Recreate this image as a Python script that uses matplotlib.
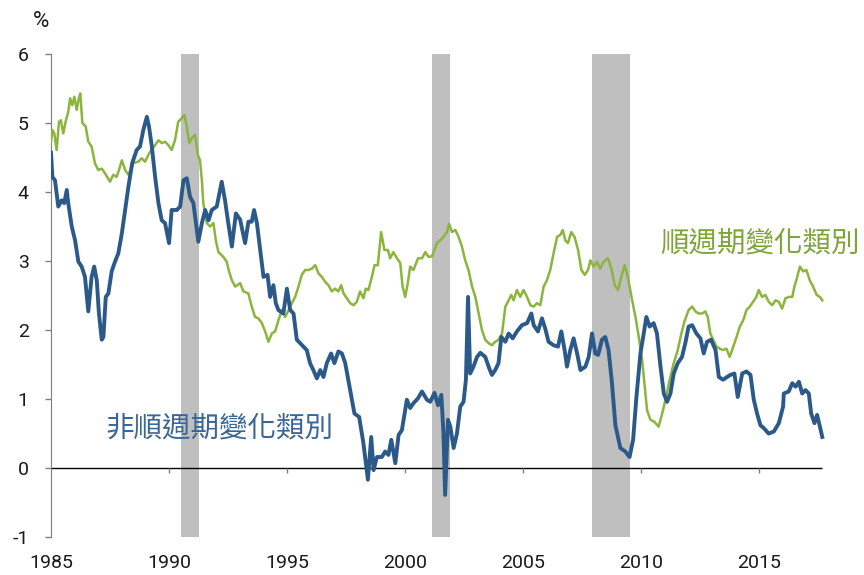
import matplotlib.pyplot as plt

plt.rcParams['font.family'] = ['Roboto', 'DejaVu Sans']
plt.rcParams['axes.unicode_minus'] = False

# non-cyclical (blue)
blue_year = [1985.00, 1985.06, 1985.17, 1985.31, 1985.45, 1985.56, 1985.67, 1985.73, 1985.88, 1986.02,
             1986.16, 1986.30, 1986.44, 1986.58, 1986.72, 1986.83, 1986.94, 1987.03, 1987.15, 1987.22,
             1987.32, 1987.43, 1987.57, 1987.71, 1987.85, 1988.00, 1988.14, 1988.28, 1988.44, 1988.63,
             1988.77, 1988.91, 1989.06, 1989.15, 1989.27, 1989.41, 1989.55, 1989.69, 1989.83, 1990.00,
             1990.11, 1990.33, 1990.47, 1990.61, 1990.75, 1990.89, 1991.03, 1991.24, 1991.39, 1991.53,
             1991.67, 1991.81, 1992.02, 1992.23, 1992.37, 1992.49, 1992.66, 1992.83, 1993.01, 1993.22,
             1993.36, 1993.50, 1993.60, 1993.72, 1993.86, 1994.00, 1994.17, 1994.28, 1994.42, 1994.52,
             1994.63, 1994.84, 1994.99, 1995.13, 1995.27, 1995.41, 1995.55, 1995.69, 1995.83, 1995.97,
             1996.11, 1996.26, 1996.40, 1996.54, 1996.68, 1996.86, 1997.00, 1997.17, 1997.32, 1997.46,
             1997.67, 1997.85, 1998.05, 1998.23, 1998.42, 1998.56, 1998.66, 1998.80, 1999.01, 1999.15,
             1999.29, 1999.41, 1999.58, 1999.72, 1999.86, 2000.07, 2000.21, 2000.35, 2000.54, 2000.71,
             2000.92, 2001.06, 2001.24, 2001.39, 2001.53, 2001.62, 2001.69, 2001.81, 2001.91, 2002.05,
             2002.19, 2002.33, 2002.47, 2002.57, 2002.66, 2002.75, 2002.89, 2003.04, 2003.18, 2003.39,
             2003.53, 2003.67, 2003.81, 2003.95, 2004.07, 2004.24, 2004.38, 2004.55, 2004.73, 2004.94,
             2005.16, 2005.34, 2005.44, 2005.62, 2005.79, 2005.93, 2006.07, 2006.28, 2006.47, 2006.61,
             2006.75, 2006.85, 2006.99, 2007.13, 2007.28, 2007.42, 2007.63, 2007.77, 2007.91, 2008.05,
             2008.17, 2008.33, 2008.47, 2008.61, 2008.75, 2008.90, 2009.11, 2009.32, 2009.50, 2009.65,
             2009.79, 2009.96, 2010.10, 2010.21, 2010.35, 2010.52, 2010.66, 2010.81, 2010.95, 2011.09,
             2011.23, 2011.37, 2011.54, 2011.72, 2011.86, 2012.00, 2012.15, 2012.33, 2012.50, 2012.64,
             2012.78, 2012.95, 2013.14, 2013.28, 2013.46, 2013.63, 2013.77, 2013.94, 2014.08, 2014.27,
             2014.45, 2014.62, 2014.76, 2014.90, 2015.04, 2015.18, 2015.39, 2015.61, 2015.82, 2016.00,
             2016.03, 2016.24, 2016.39, 2016.53, 2016.67, 2016.81, 2016.95, 2017.09, 2017.19, 2017.33,
             2017.44, 2017.56, 2017.66]
blue_val = [4.57, 4.22, 4.17, 3.79, 3.88, 3.84, 4.03, 3.84, 3.50, 3.30,
            2.99, 2.92, 2.77, 2.27, 2.77, 2.92, 2.72, 2.24, 1.86, 1.90,
            2.48, 2.53, 2.85, 2.99, 3.11, 3.40, 3.74, 4.08, 4.42, 4.61,
            4.66, 4.90, 5.09, 4.95, 4.66, 4.22, 3.84, 3.59, 3.55, 3.26,
            3.74, 3.74, 3.79, 4.17, 4.20, 3.93, 3.84, 3.28, 3.55, 3.74,
            3.59, 3.74, 3.79, 4.15, 3.88, 3.59, 3.21, 3.69, 3.60, 3.26,
            3.57, 3.57, 3.74, 3.55, 3.16, 2.77, 2.80, 2.48, 2.65, 2.39,
            2.29, 2.24, 2.60, 2.29, 2.24, 1.86, 1.81, 1.76, 1.71, 1.52,
            1.42, 1.30, 1.42, 1.32, 1.52, 1.66, 1.52, 1.69, 1.66, 1.52,
            1.13, 0.79, 0.74, 0.36, -0.17, 0.45, -0.03, 0.16, 0.16, 0.24,
            0.19, 0.41, 0.07, 0.48, 0.55, 0.99, 0.87, 0.94, 1.01, 1.11,
            0.99, 0.96, 1.09, 0.91, 1.06, 0.50, -0.39, 0.70, 0.60, 0.29,
            0.50, 0.89, 0.96, 1.28, 2.48, 1.37, 1.47, 1.61, 1.67, 1.61,
            1.47, 1.35, 1.42, 1.52, 1.90, 1.83, 1.95, 1.88, 1.98, 2.07,
            2.10, 2.24, 2.07, 1.98, 2.17, 2.02, 1.83, 1.78, 1.76, 1.98,
            1.71, 1.47, 1.71, 1.88, 1.66, 1.42, 1.47, 1.61, 1.95, 1.66,
            1.64, 1.86, 1.90, 1.71, 1.25, 0.62, 0.29, 0.24, 0.16, 0.41,
            1.03, 1.66, 1.95, 2.19, 2.05, 2.10, 1.95, 1.47, 1.08, 0.96,
            1.08, 1.37, 1.52, 1.61, 1.81, 2.05, 2.07, 1.95, 1.88, 1.66,
            1.83, 1.86, 1.71, 1.32, 1.28, 1.32, 1.35, 1.37, 1.03, 1.37,
            1.40, 1.35, 0.99, 0.79, 0.62, 0.58, 0.50, 0.53, 0.65, 0.89,
            1.08, 1.11, 1.23, 1.18, 1.25, 1.08, 1.13, 1.08, 0.79, 0.65,
            0.77, 0.60, 0.45]

# cyclical (green)
green_year = [1985.00, 1985.06, 1985.14, 1985.24, 1985.34, 1985.42, 1985.52, 1985.62, 1985.73, 1985.81,
              1985.90, 1985.99, 1986.09, 1986.16, 1986.24, 1986.33, 1986.47, 1986.58, 1986.72, 1986.86,
              1987.00, 1987.15, 1987.29, 1987.50, 1987.64, 1987.78, 1987.88, 1988.00, 1988.14, 1988.28,
              1988.49, 1988.70, 1988.84, 1988.98, 1989.19, 1989.41, 1989.55, 1989.69, 1989.83, 1989.97,
              1990.11, 1990.25, 1990.39, 1990.54, 1990.65, 1990.75, 1990.86, 1990.96, 1991.10, 1991.22,
              1991.31, 1991.39, 1991.45, 1991.60, 1991.74, 1991.88, 1991.98, 1992.09, 1992.30, 1992.44,
              1992.54, 1992.66, 1992.80, 1993.01, 1993.15, 1993.36, 1993.50, 1993.64, 1993.78, 1993.93,
              1994.07, 1994.21, 1994.35, 1994.49, 1994.63, 1994.78, 1994.92, 1995.06, 1995.20, 1995.34,
              1995.48, 1995.62, 1995.76, 1995.90, 1996.05, 1996.19, 1996.33, 1996.47, 1996.61, 1996.75,
              1996.89, 1997.03, 1997.17, 1997.29, 1997.39, 1997.53, 1997.67, 1997.81, 1997.95, 1998.09,
              1998.23, 1998.33, 1998.44, 1998.59, 1998.70, 1998.84, 1998.98, 1999.12, 1999.27, 1999.36,
              1999.50, 1999.65, 1999.79, 1999.89, 2000.00, 2000.11, 2000.21, 2000.35, 2000.54, 2000.71,
              2000.85, 2000.99, 2001.14, 2001.34, 2001.48, 2001.62, 2001.77, 2001.86, 2001.98, 2002.12,
              2002.26, 2002.40, 2002.54, 2002.68, 2002.83, 2002.97, 2003.11, 2003.25, 2003.39, 2003.53,
              2003.67, 2003.81, 2003.95, 2004.10, 2004.24, 2004.38, 2004.49, 2004.59, 2004.73, 2004.87,
              2005.01, 2005.16, 2005.30, 2005.44, 2005.58, 2005.72, 2005.86, 2006.00, 2006.14, 2006.28,
              2006.43, 2006.57, 2006.67, 2006.78, 2006.89, 2007.03, 2007.17, 2007.32, 2007.46, 2007.60,
              2007.74, 2007.84, 2007.98, 2008.12, 2008.26, 2008.40, 2008.59, 2008.73, 2008.87, 2009.01,
              2009.15, 2009.29, 2009.39, 2009.50, 2009.61, 2009.75, 2009.89, 2010.03, 2010.13, 2010.24,
              2010.38, 2010.55, 2010.73, 2010.88, 2011.02, 2011.20, 2011.37, 2011.54, 2011.68, 2011.82,
              2012.00, 2012.15, 2012.29, 2012.43, 2012.57, 2012.71, 2012.81, 2012.92, 2013.04, 2013.18,
              2013.32, 2013.46, 2013.60, 2013.74, 2013.89, 2014.03, 2014.17, 2014.31, 2014.45, 2014.59,
              2014.73, 2014.87, 2014.97, 2015.11, 2015.25, 2015.39, 2015.54, 2015.68, 2015.82, 2015.96,
              2016.10, 2016.24, 2016.39, 2016.48, 2016.60, 2016.71, 2016.85, 2016.99, 2017.13, 2017.27,
              2017.42, 2017.56, 2017.66]
green_val = [4.73, 4.90, 4.85, 4.61, 5.02, 5.04, 4.85, 5.02, 5.16, 5.36,
             5.26, 5.38, 5.19, 5.33, 5.43, 5.00, 4.95, 4.73, 4.66, 4.42,
             4.32, 4.34, 4.27, 4.15, 4.25, 4.22, 4.32, 4.46, 4.32, 4.25,
             4.42, 4.44, 4.49, 4.44, 4.58, 4.68, 4.75, 4.71, 4.73, 4.68,
             4.61, 4.75, 5.02, 5.07, 5.12, 4.95, 4.71, 4.78, 4.83, 4.54,
             4.46, 4.17, 3.84, 3.55, 3.50, 3.55, 3.30, 3.13, 3.06, 2.99,
             2.85, 2.72, 2.63, 2.68, 2.56, 2.53, 2.34, 2.19, 2.17, 2.10,
             1.98, 1.83, 1.95, 1.98, 2.14, 2.29, 2.19, 2.29, 2.39, 2.48,
             2.63, 2.80, 2.87, 2.87, 2.89, 2.94, 2.82, 2.77, 2.70, 2.65,
             2.56, 2.60, 2.56, 2.65, 2.53, 2.46, 2.39, 2.36, 2.41, 2.56,
             2.46, 2.60, 2.58, 2.77, 2.94, 2.94, 3.42, 3.16, 3.16, 3.04,
             3.13, 3.04, 2.97, 2.63, 2.48, 2.68, 2.92, 2.87, 3.04, 3.04,
             3.13, 3.06, 3.07, 3.26, 3.30, 3.35, 3.42, 3.54, 3.42, 3.45,
             3.35, 3.21, 3.01, 2.87, 2.63, 2.48, 2.24, 2.00, 1.86, 1.81,
             1.78, 1.83, 1.86, 1.95, 2.34, 2.43, 2.51, 2.43, 2.58, 2.48,
             2.58, 2.48, 2.36, 2.34, 2.39, 2.36, 2.63, 2.72, 2.87, 3.11,
             3.35, 3.38, 3.45, 3.30, 3.26, 3.42, 3.35, 3.16, 2.87, 2.80,
             2.87, 3.01, 2.92, 2.99, 2.89, 2.99, 3.04, 2.89, 2.65, 2.58,
             2.77, 2.94, 2.82, 2.63, 2.43, 2.19, 1.90, 1.57, 1.23, 0.84,
             0.70, 0.67, 0.60, 0.79, 0.99, 1.28, 1.52, 1.71, 1.93, 2.12,
             2.29, 2.34, 2.27, 2.24, 2.24, 2.27, 2.19, 1.95, 1.86, 1.76,
             1.73, 1.71, 1.73, 1.61, 1.76, 1.90, 2.05, 2.14, 2.29, 2.34,
             2.41, 2.48, 2.58, 2.48, 2.51, 2.41, 2.36, 2.43, 2.41, 2.31,
             2.46, 2.48, 2.48, 2.63, 2.77, 2.92, 2.85, 2.87, 2.72, 2.63,
             2.51, 2.48, 2.43]

# recession periods
rec_start = [1990.5, 2001.15, 2007.9]
rec_end = [1991.28, 2001.9, 2009.5]

year_ticks = [1985, 1990, 1995, 2000, 2005, 2010, 2015]
y_ticks = [-1, 0, 1, 2, 3, 4, 5, 6]

blue = '#2b5a8a'
green = '#8bb53c'
axis_grey = '#7f7f7f'

fig = plt.figure(figsize=(8.64, 5.75), dpi=100)
ax = fig.add_axes([0.059, 0.066, 0.902, 0.840])

for s, e in zip(rec_start, rec_end):
    ax.axvspan(s, e, color='#bfbfbf', lw=0, zorder=1)

ax.hlines(0, year_ticks[0], blue_year[-1], color='black', lw=1.0, zorder=2)
ax.vlines(year_ticks[1:], -0.07, 0, color=axis_grey, lw=1.0, zorder=2)

ax.plot(green_year, green_val, color=green, lw=1.8, zorder=3)
ax.plot(blue_year, blue_val, color=blue, lw=2.8, zorder=4)

ax.set_xlim(1985, 2018)
ax.set_ylim(-1, 6)
ax.set_yticks(y_ticks)
ax.set_xticks(year_ticks)
ax.tick_params(axis='x', length=0, pad=12, labelsize=14, labelcolor='#1a1a1a')
ax.tick_params(axis='y', length=4, width=1, color=axis_grey, pad=12, labelsize=14, labelcolor='#1a1a1a')
for side in ['top', 'right', 'bottom']:
    ax.spines[side].set_visible(False)
ax.spines['left'].set_color(axis_grey)

fig.text(0.047, 0.963, '%', fontsize=16, color='#1a1a1a', ha='center', va='center')

ax.text(2010.8, 3.26, '順週期變化類別', color='#7ea53a', fontsize=20.5,
        family=['Noto Sans CJK TC', 'DejaVu Sans'], va='center', ha='left')
ax.text(1987.29, 0.58, '非順週期變化類別', color='#3a6696', fontsize=20.5,
        family=['Noto Sans CJK TC', 'DejaVu Sans'], va='center', ha='left')

plt.savefig('out.png', dpi=100)
